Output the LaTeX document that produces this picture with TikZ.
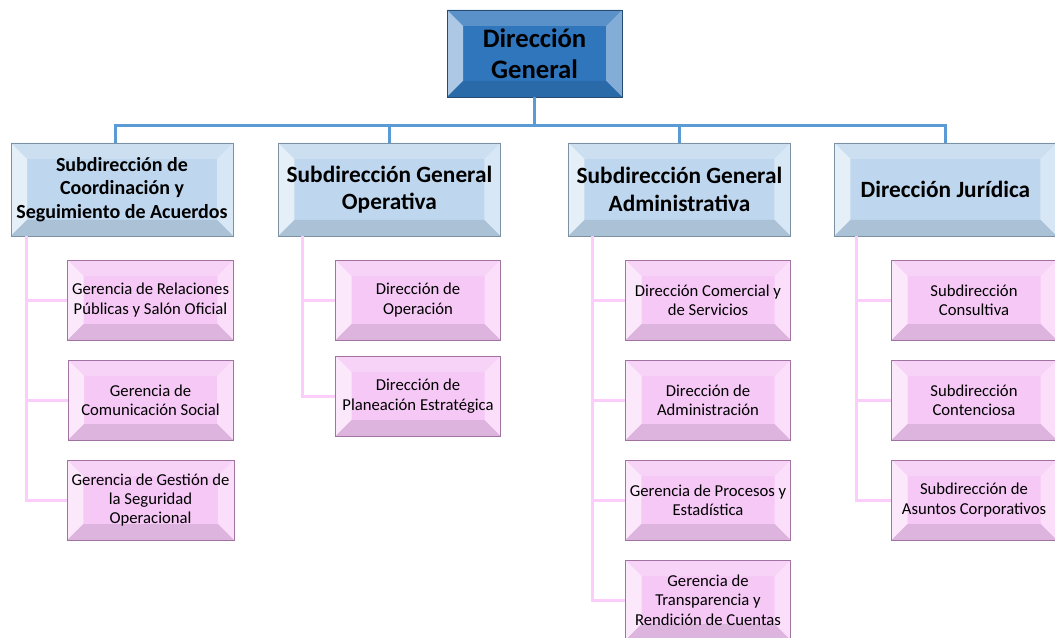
\documentclass[tikz,border=0pt]{standalone}
\usepackage{xcolor}
\usepackage{fontspec}
\setmainfont{Carlito}
\usetikzlibrary{positioning}

\definecolor{topblue}{RGB}{48,118,188}
\definecolor{topedge}{RGB}{40,75,115}
\definecolor{subblue}{RGB}{190,215,238}
\definecolor{subedge}{RGB}{125,145,165}
\definecolor{pinkbox}{RGB}{246,200,246}
\definecolor{pinkedge}{RGB}{160,115,160}
\definecolor{linkblue}{RGB}{91,155,213}
\definecolor{linkpink}{RGB}{250,205,250}

\newcommand{\bevelsz}{12pt}
\newcommand{\bevelfaces}[1]{%
  \path (path picture bounding box.north west) coordinate (p1)
        (path picture bounding box.north east) coordinate (p2)
        (path picture bounding box.south east) coordinate (p3)
        (path picture bounding box.south west) coordinate (p4);
  \path ([shift={(\bevelsz,-\bevelsz)}]p1) coordinate (q1)
        ([shift={(-\bevelsz,-\bevelsz)}]p2) coordinate (q2)
        ([shift={(-\bevelsz,\bevelsz)}]p3) coordinate (q3)
        ([shift={(\bevelsz,\bevelsz)}]p4) coordinate (q4);
  \fill[#1!80!white] (p1) -- (p2) -- (q2) -- (q1) -- cycle;
  \fill[#1!40!white] (p1) -- (q1) -- (q4) -- (p4) -- cycle;
  \fill[#1!60!white] (p2) -- (p3) -- (q3) -- (q2) -- cycle;
  \fill[#1!90!black] (p4) -- (q4) -- (q3) -- (p3) -- cycle;
}

\tikzstyle{topbox} = [rectangle, minimum width=131.25pt, minimum height=65.25pt, align=center, draw=topedge, fill=topblue, path picture={\bevelfaces{topblue}}, font=\fontsize{20}{23.5}\selectfont\bfseries]
\tikzstyle{subbox} = [rectangle, minimum width=166.5pt, minimum height=69.75pt, align=center, draw=subedge, fill=subblue, path picture={\bevelfaces{subblue}}, font=\fontsize{17.5}{20.5}\selectfont\bfseries]
\tikzstyle{depbox} = [rectangle, minimum width=123.75pt, minimum height=60pt, align=center, draw=pinkedge, fill=pinkbox, path picture={\bevelfaces{pinkbox}}, font=\fontsize{12.5}{14.5}\selectfont]
\tikzstyle{blueline} = [line width=2.5pt, draw=linkblue]
\tikzstyle{pinkline} = [line width=2.25pt, draw=linkpink]

\begin{document}
\begin{tikzpicture}[node distance=75pt]
\useasboundingbox (0,0) rectangle (791.25pt,-477.75pt);

\node (dir_gen) [topbox] at (400.9pt,-40.1pt) {Dirección\\General};

\node (sub_coord) [subbox, below of=dir_gen, xshift=-309.4pt, yshift=-27pt, font=\fontsize{15}{17.5}\selectfont\bfseries] {Subdirección de\\Coordinación y\\Seguimiento de Acuerdos};
\node (sub_oper) [subbox, below of=dir_gen, xshift=-108.8pt, yshift=-27pt] {Subdirección General\\Operativa};
\node (sub_admin) [subbox, below of=dir_gen, xshift=108.7pt, yshift=-27pt] {Subdirección General\\Administrativa};
\node (dir_jur) [subbox, below of=dir_gen, xshift=308.2pt, yshift=-27pt] {Dirección Jurídica};

\node (ger_rel) [depbox, below of=sub_coord, xshift=21.4pt, yshift=-7.9pt] {Gerencia de Relaciones\\Públicas y Salón Oficial};
\node (ger_com) [depbox, below of=ger_rel] {Gerencia de\\Comunicación Social};
\node (ger_seg) [depbox, below of=ger_com] {Gerencia de Gestión de\\la Seguridad\\Operacional};

\node (dir_op) [depbox, below of=sub_oper, xshift=21.4pt, yshift=-7.9pt] {Dirección de\\Operación};
\node (dir_plan) [depbox, below of=dir_op, yshift=3pt] {Dirección de\\Planeación Estratégica};

\node (dir_comer) [depbox, below of=sub_admin, xshift=21.4pt, yshift=-7.9pt] {Dirección Comercial y\\de Servicios};
\node (dir_adm) [depbox, below of=dir_comer] {Dirección de\\Administración};
\node (ger_proc) [depbox, below of=dir_adm] {Gerencia de Procesos y\\Estadística};
\node (ger_trans) [depbox, below of=ger_proc] {Gerencia de\\Transparencia y\\Rendición de Cuentas};

\node (sub_cons) [depbox, below of=dir_jur, xshift=21.4pt, yshift=-7.9pt] {Subdirección\\Consultiva};
\node (sub_cont) [depbox, below of=sub_cons] {Subdirección\\Contenciosa};
\node (sub_corp) [depbox, below of=sub_cont] {Subdirección de\\Asuntos Corporativos};

\draw[blueline] (dir_gen.south) -- ++(0,-21pt) -| ([xshift=-5pt]sub_coord.north);
\draw[blueline] (dir_gen.south) -- ++(0,-21pt) -| (sub_oper.north);
\draw[blueline] (dir_gen.south) -- ++(0,-21pt) -| (sub_admin.north);
\draw[blueline] (dir_gen.south) -- ++(0,-21pt) -| (dir_jur.north);

\draw[pinkline] ([xshift=12pt]sub_coord.south west) |- (ger_rel.west);
\draw[pinkline] ([xshift=12pt]sub_coord.south west) |- (ger_com.west);
\draw[pinkline] ([xshift=12pt]sub_coord.south west) |- (ger_seg.west);

\draw[pinkline] ([xshift=18pt]sub_oper.south west) |- (dir_op.west);
\draw[pinkline] ([xshift=18pt]sub_oper.south west) |- (dir_plan.west);

\draw[pinkline] ([xshift=18pt]sub_admin.south west) |- (dir_comer.west);
\draw[pinkline] ([xshift=18pt]sub_admin.south west) |- (dir_adm.west);
\draw[pinkline] ([xshift=18pt]sub_admin.south west) |- (ger_proc.west);
\draw[pinkline] ([xshift=18pt]sub_admin.south west) |- (ger_trans.west);

\draw[pinkline] ([xshift=16.5pt]dir_jur.south west) |- (sub_cons.west);
\draw[pinkline] ([xshift=16.5pt]dir_jur.south west) |- (sub_cont.west);
\draw[pinkline] ([xshift=16.5pt]dir_jur.south west) |- (sub_corp.west);
\end{tikzpicture}
\end{document}
